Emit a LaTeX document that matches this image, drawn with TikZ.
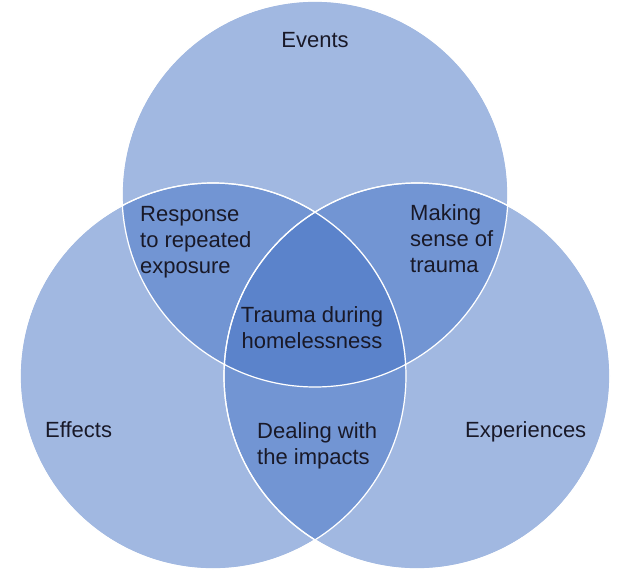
\documentclass[tikz,border=0pt]{standalone}
\usepackage{fontspec}
\setmainfont{Liberation Sans}
\definecolor{vennblue}{HTML}{4472C4}
\definecolor{txt}{RGB}{25,25,40}
\begin{document}
\begin{tikzpicture}[x=1pt,y=-1pt,
  venn/.style={fill=vennblue,fill opacity=0.5,draw=white,line width=1.2pt},
  lbl/.style={inner sep=0pt,text=txt,font=\fontsize{22}{26}\selectfont},
  lbll/.style={lbl,align=left,anchor=base west},
  lblc/.style={lbl,align=center,anchor=base}]
\useasboundingbox (0,0) rectangle (624,574);
\coordinate (ctop) at (315,194);
\coordinate (cleft) at (213,376);
\coordinate (cright) at (417,376);
\fill[venn] (ctop) circle[radius=193];
\fill[venn] (cleft) circle[radius=193];
\fill[venn] (cright) circle[radius=193];
\draw[draw=white,line width=1.2pt] (ctop) circle[radius=193];
\draw[draw=white,line width=1.2pt] (cleft) circle[radius=193];
\draw[draw=white,line width=1.2pt] (cright) circle[radius=193];
\node[lblc] (events) at (315,47) {Events};
\node[lbll] (effects) at (45,437) {Effects};
\node[lbll] (experiences) at (465,437) {Experiences};
\node[lbll] (response) at (140,273) {Response\\to repeated\\exposure};
\node[lbll] (making) at (410,272) {Making\\sense of\\trauma};
\node[lblc] (center) at (312,348) {Trauma during\\homelessness};
\node[lbll] (dealing) at (257,464) {Dealing with\\the impacts};
\end{tikzpicture}
\end{document}
